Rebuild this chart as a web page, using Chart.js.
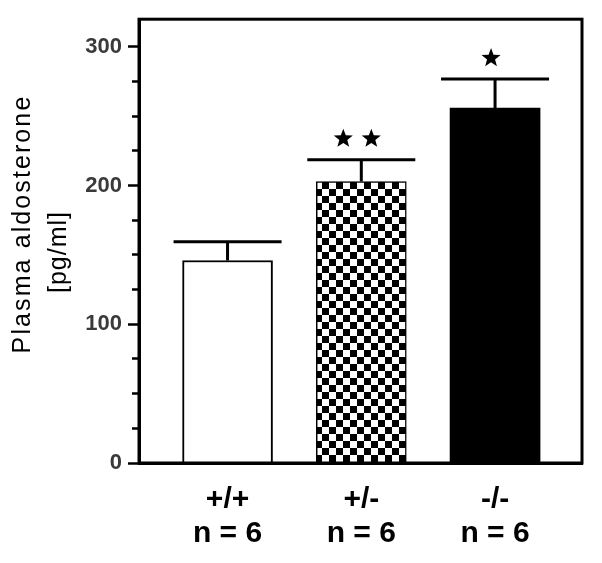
<!DOCTYPE html>
<html>
<head>
<meta charset="utf-8">
<script src="https://cdn.jsdelivr.net/npm/chart.js@4/dist/chart.umd.min.js"></script>
<style>
html, body { margin: 0; padding: 0; background: #fff; }
#cadre { width: 602px; height: 563px; }
</style>
</head>
<body>
<div id="cadre"><canvas id="graphique" width="602" height="563"></canvas></div>
<script>
// valeurs
const genotypes = ['+/+', '+/-', '-/-'];
const effectifs = ['n = 6', 'n = 6', 'n = 6'];
const positions = [1, 2, 3];
const aldosterone = [146, 203, 256];
const erreurs = [13.5, 15.7, 20.8];
const etoiles = [0, 2, 1];
const graduationsY = [0, 100, 200, 300];
const titreY = ['Plasma aldosterone', '[pg/ml]'];

const police = '"Liberation Sans", Arial, sans-serif';

// motif damier pour +/-
function damier() {
    let c = document.createElement('canvas');
    c.width = 14; c.height = 14;
    let g = c.getContext('2d');
    g.fillStyle = '#fff';
    g.fillRect(0, 0, 14, 14);
    g.fillStyle = '#000';
    g.fillRect(0, 0, 7, 7);
    g.fillRect(7, 7, 7, 7);
    return document.getElementById('graphique').getContext('2d').createPattern(c, 'repeat');
}

function etoile(ctx, cx, cy, r) {
    ctx.beginPath();
    for (let k = 0; k < 10; k++) {
        let a = -Math.PI / 2 + k * Math.PI / 5;
        let rr = (k % 2 == 0) ? r : r * 0.42;
        ctx.lineTo(cx + rr * Math.cos(a), cy + rr * Math.sin(a));
    }
    ctx.closePath();
    ctx.fill();
}

// barres d'erreur + étoiles
const barresErreur = {
    id: 'barresErreur',
    afterDatasetsDraw(chart) {
        let ctx = chart.ctx, sx = chart.scales.x, sy = chart.scales.y;
        ctx.save();
        ctx.strokeStyle = '#000';
        ctx.fillStyle = '#000';
        ctx.lineWidth = 3;
        for (let i = 0; i < positions.length; i++) {
            let cx = sx.getPixelForValue(positions[i]);
            let yb = sy.getPixelForValue(aldosterone[i]);
            let yh = sy.getPixelForValue(aldosterone[i] + erreurs[i]);
            ctx.beginPath();
            ctx.moveTo(cx, yb);
            ctx.lineTo(cx, yh);
            ctx.moveTo(cx - 54, yh);
            ctx.lineTo(cx + 54, yh);
            ctx.stroke();
            let n = etoiles[i];
            for (let k = 0; k < n; k++) {
                etoile(ctx, cx - 4 + (k - (n - 1) / 2) * 28, yh - 21, 10);
            }
        }
        ctx.restore();
    }
};

// cadre + titre de l'axe y
const cadre = {
    id: 'cadre',
    afterDraw(chart) {
        let ctx = chart.ctx, a = chart.chartArea;
        ctx.save();
        ctx.strokeStyle = '#000';
        ctx.lineWidth = 3;
        ctx.strokeRect(a.left, a.top, a.right - a.left, a.bottom - a.top);
        ctx.fillStyle = '#000';
        ctx.font = '25px ' + police;
        ctx.letterSpacing = '2.1px';
        ctx.textAlign = 'center';
        ctx.textBaseline = 'alphabetic';
        ctx.translate(30, 224);
        ctx.rotate(-Math.PI / 2);
        ctx.fillText(titreY[0], 0, 0);
        ctx.letterSpacing = '1px';
        ctx.fillText(titreY[1], -28, 35.5);
        ctx.restore();
    }
};

const config = {
    type: 'bar',
    data: {
        datasets: [{
            data: positions.map((p, i) => ({x: p, y: aldosterone[i]})),
            backgroundColor: ['#ffffff', damier(), '#000000'],
            borderColor: '#000',
            borderWidth: [2, 1.5, 0],
            barThickness: 90
        }]
    },
    options: {
        responsive: false,
        animation: false,
        layout: { padding: { top: 15, right: 20, left: 0, bottom: 0 } },
        plugins: { legend: { display: false }, tooltip: { enabled: false } },
        scales: {
            x: {
                type: 'linear',
                offset: false,
                min: 0.338,
                max: 3.65,
                afterBuildTicks: s => { s.ticks = positions.map(v => ({value: v})); },
                afterFit: s => { s.height = 100; },
                grid: { offset: false, drawOnChartArea: false, drawTicks: false },
                border: { width: 3, color: '#000' },
                ticks: {
                    autoSkip: false,
                    maxRotation: 0,
                    padding: 20,
                    color: '#000',
                    font: { family: police, size: 30, weight: 'bold', lineHeight: 1.13 },
                    callback: v => {
                        let i = positions.indexOf(v);
                        return i < 0 ? '' : [genotypes[i], effectifs[i]];
                    }
                }
            },
            y: {
                min: 0,
                max: 320,
                afterBuildTicks: s => {
                    let t = [];
                    for (let v = 0; v <= 300; v += 25) t.push({value: v});
                    s.ticks = t;
                },
                afterFit: s => { s.width = 139; },
                grid: {
                    drawOnChartArea: false,
                    tickLength: 11,
                    tickWidth: 2.5,
                    tickColor: '#000',
                    tickBorderDash: c => graduationsY.includes(c.tick.value) ? [] : [0, 4, 7, 0]
                },
                border: { width: 3, color: '#000' },
                ticks: {
                    padding: 6,
                    color: '#3a3a3a',
                    font: { family: police, size: 22, weight: 'bold' },
                    callback: v => graduationsY.includes(v) ? String(v) : ''
                }
            }
        }
    },
    plugins: [barresErreur, cadre]
};

window.graphique = new Chart(document.getElementById('graphique'), config);
</script>
</body>
</html>
